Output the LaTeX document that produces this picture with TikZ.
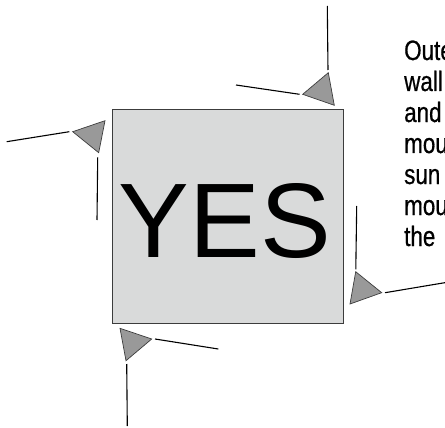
\documentclass[tikz,border=0pt]{standalone}
\usepackage{fontspec}
\setmainfont{Liberation Sans}
\newfontfamily\condfont[FakeStretch=0.8,FakeBold=0.6]{Liberation Sans}
\usetikzlibrary{positioning}
\definecolor{boxgray}{RGB}{217,218,218}
\definecolor{tipgray}{RGB}{153,153,153}
\definecolor{edgegray}{RGB}{60,60,60}

\begin{document}
\begin{tikzpicture}[x=1pt,y=-1pt,
  panel/.style={draw=edgegray,fill=boxgray,line width=0.8pt},
  tip/.style={draw=edgegray,fill=tipgray,line width=0.7pt,line join=miter},
  wire/.style={black,line width=1.1pt},
  note/.style={font=\condfont\fontsize{28}{31}\selectfont,inner sep=0pt,anchor=base west}
]
\useasboundingbox (0,0) rectangle (445,428);
\clip (0,0) rectangle (445,428);
% the square
\draw[panel] (112,109) rectangle (343,323);
\node[inner sep=0pt,anchor=base,font=\fontsize{106}{106}\selectfont] (yes) at (225,257) {YES};
% top right
\coordinate (tra) at (327.3,6);   \coordinate (trb) at (328,70);
\coordinate (trc) at (236,85);    \coordinate (trd) at (299.5,94.3);
\draw[wire] (tra) -- (trb);
\draw[wire] (trc) -- (trd);
\draw[tip] (328.3,72.7) -- (302.7,94.3) -- (334.3,105.3) -- cycle;
% top left
\coordinate (tla) at (6.7,141.7); \coordinate (tlb) at (69.3,131.7);
\coordinate (tlc) at (97.7,157.3); \coordinate (tld) at (97,220);
\draw[wire] (tla) -- (tlb);
\draw[wire] (tlc) -- (tld);
\draw[tip] (72.7,131.7) -- (105,120.7) -- (98.7,152.7) -- cycle;
% bottom right
\coordinate (bra) at (356.7,206); \coordinate (brb) at (355.8,269.3);
\coordinate (brc) at (385,292.7); \coordinate (brd) at (446,282.5);
\draw[wire] (bra) -- (brb);
\draw[wire] (brc) -- (brd);
\draw[tip] (355.7,271.7) -- (381.7,292.7) -- (350,304) -- cycle;
% bottom left
\coordinate (bla) at (155,339);   \coordinate (blb) at (218.3,349);
\coordinate (blc) at (126.7,364); \coordinate (bld) at (127.3,426);
\draw[wire] (bla) -- (blb);
\draw[wire] (blc) -- (bld);
\draw[tip] (120,328.3) -- (151.7,339) -- (126,360.7) -- cycle;
% side text
\foreach \w [count=\i] in {Outer,wall,and,mounted,sun,mounting,the}
  \node[note] (line\i) at (404,{29+31*\i}) {\w};
\end{tikzpicture}
\end{document}
